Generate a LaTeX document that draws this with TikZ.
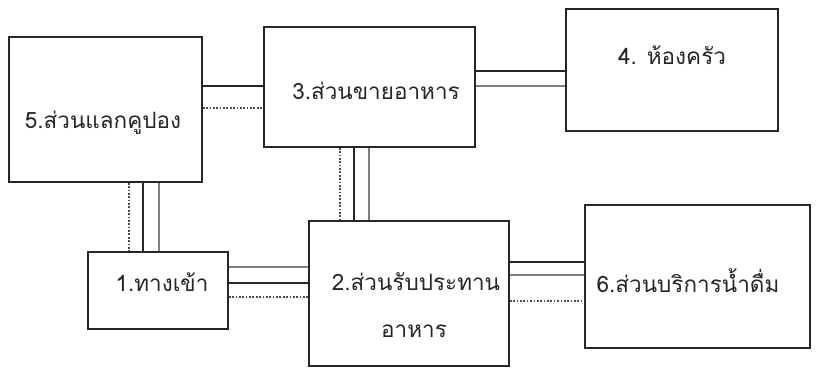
\documentclass[tikz,border=0pt]{standalone}
\usepackage{fontspec}
\newfontfamily\thaifont[Script=Thai]{Loma}
\usepackage{tikz}

\begin{document}
\begin{tikzpicture}[x=0.025cm,y=-0.025cm,
  box/.style={draw=black!85, line width=1.2pt, rectangle, inner sep=0pt},
  txt/.style={font=\thaifont\fontsize{16}{19}\selectfont, text=black!85, inner sep=0pt},
  darkline/.style={black!85, line width=2.1pt},
  grayline/.style={black!50, line width=1.6pt},
  dotline/.style={black!70, line width=1.7pt, dash pattern=on 1.2pt off 1.2pt}]
\useasboundingbox (0,0) rectangle (820,368);
\node[box, minimum width=4.825cm, minimum height=3.625cm] (b5) at (105.5,109.5) {};
\node[box, minimum width=5.275cm, minimum height=3cm] (b3) at (369.5,87) {};
\node[box, minimum width=5.3cm, minimum height=3.05cm] (b4) at (672,70) {};
\node[box, minimum width=3.5cm, minimum height=1.925cm] (b1) at (158,290.5) {};
\node[box, minimum width=5cm, minimum height=3.625cm] (b2) at (409,293.5) {};
\node[box, minimum width=5.625cm, minimum height=3.575cm] (b6) at (697.5,276.5) {};
\node[txt] (t5) at (103,123) {5.ส่วนแลกคูปอง};
\node[txt] (t3) at (376,91) {3.ส่วนขายอาหาร};
\node[txt] (t4) at (672,55) {4. ห้องครัว};
\node[txt] (t1) at (162,282) {1.ทางเข้า};
\node[txt] (t2a) at (416,282) {2.ส่วนรับประทาน};
\node[txt] (t2b) at (414,331) {อาหาร};
\node[txt] (t6) at (688,281) {6.ส่วนบริการน้ำดื่ม};
\draw[darkline] (b5.east |- 0,86) -- (b3.west |- 0,86);
\draw[dotline] (b5.east |- 0,108) -- (b3.west |- 0,108);
\draw[darkline] (b3.east |- 0,71) -- (b4.west |- 0,71);
\draw[grayline] (b3.east |- 0,86) -- (b4.west |- 0,86);
\draw[dotline] (b3.south -| 340,0) -- (b2.north -| 340,0);
\draw[darkline] (b3.south -| 354,0) -- (b2.north -| 354,0);
\draw[grayline] (b3.south -| 369,0) -- (b2.north -| 369,0);
\draw[dotline] (b5.south -| 129,0) -- (b1.north -| 129,0);
\draw[darkline] (b5.south -| 143,0) -- (b1.north -| 143,0);
\draw[grayline] (b5.south -| 159,0) -- (b1.north -| 159,0);
\draw[grayline] (b1.east |- 0,267) -- (b2.west |- 0,267);
\draw[darkline] (b1.east |- 0,283) -- (b2.west |- 0,283);
\draw[dotline] (b1.east |- 0,297) -- (b2.west |- 0,297);
\draw[darkline] (b2.east |- 0,262) -- (b6.west |- 0,262);
\draw[grayline] (b2.east |- 0,275) -- (b6.west |- 0,275);
\draw[dotline] (b2.east |- 0,301) -- (b6.west |- 0,301);
\end{tikzpicture}
\end{document}
